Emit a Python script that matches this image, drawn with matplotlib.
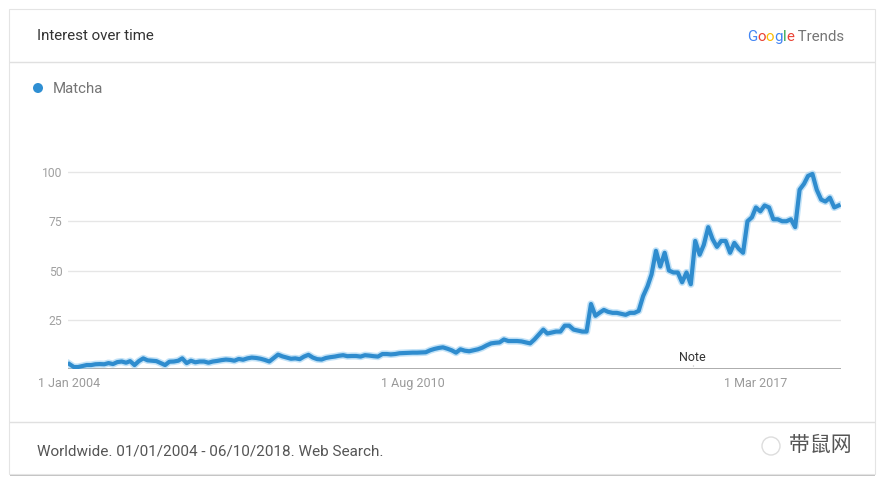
import numpy as np
import pandas as pd
import matplotlib
matplotlib.use('Agg')
import matplotlib.pyplot as plt
from matplotlib.patches import Rectangle, Circle

# monthly search interest for "Matcha", Jan 2004 .. Oct 2018
matcha = [
    2.5, 1, 1, 1.5, 2, 2, 2.4, 2.5, 2.4, 3, 2.5, 3.5, 3.8, 3.2, 4, 2, 4, 5.4, 4.4, 4.2,
    4, 3, 2, 3.7, 3.8, 4.2, 5.4, 3, 4.2, 3.4, 3.8, 3.8, 3.2, 3.8, 4.1, 4.5, 4.8, 4.6, 4.2, 5.1,
    4.7, 5.4, 5.8, 5.6, 5.2, 4.6, 3.8, 5.5, 7.3, 6.4, 5.8, 5.2, 5.4, 5, 6.3, 7.2, 5.8, 5, 4.8, 5.6,
    6, 6.3, 6.7, 7, 6.5, 6.6, 6.6, 6.3, 7, 6.8, 6.5, 6.3, 7.6, 7.6, 7.4, 7.6, 8, 8.1, 8.2, 8.3,
    8.3, 8.4, 8.5, 9.5, 10.2, 10.7, 11, 10.3, 9.5, 8.3, 10, 9.3, 9, 9.5, 10, 10.8, 12, 13, 13.3, 13.5,
    15, 14.2, 14.2, 14.2, 14, 13.5, 13, 15, 17.5, 20, 18, 18.5, 19, 19, 22, 22, 20, 19.5, 19, 19,
    33, 27, 28.5, 30, 29, 28.5, 28.5, 28, 27.5, 28.5, 28.5, 29.5, 37, 42, 48, 60, 52, 59, 50, 49,
    49, 44, 49, 43, 65, 58, 63, 72, 66, 62, 65, 65, 59, 64, 61, 59, 75, 77, 82, 80, 83, 82,
    76, 76, 75, 75, 76, 72, 91, 94, 98, 99, 91, 86, 85, 87, 82, 83,
]
months = pd.date_range('2004-01-01', periods=len(matcha), freq='MS')
y_ticks = [25, 50, 75, 100]
x_ticks = ['2004-01-01', '2010-08-01', '2017-03-01']
x_tick_labels = ['1 Jan 2004', '1 Aug 2010', '1 Mar 2017']
note_date = '2015-12-15'

W, H = 884, 484
fig = plt.figure(figsize=(W / 100, H / 100), dpi=100)
fig.patch.set_facecolor('white')

# background "card" drawn in pixel coordinates
bg = fig.add_axes([0, 0, 1, 1])
bg.set_xlim(0, W)
bg.set_ylim(H, 0)
bg.axis('off')
bg.add_patch(Rectangle((10, 12), 865, 464, facecolor='#c4c4c4', edgecolor='none'))  # shadow
bg.add_patch(Rectangle((9, 9), 866, 465, facecolor='white', edgecolor='#e4e4e4', lw=0.8))
bg.plot([10, 874], [62, 62], color='#e0e0e0', lw=1)
bg.plot([10, 874], [422, 422], color='#e0e0e0', lw=1)

bg.text(37, 36, 'Interest over time', fontsize=10.9, color='#333333', family='Roboto', va='center')
bg.text(37, 451, 'Worldwide. 01/01/2004 - 06/10/2018. Web Search.', fontsize=11,
        color='#555555', family='Roboto', va='center')

# Google Trends logo, letter by letter
prev = bg.text(747, 37, 'G', fontsize=10.8, color='#4285f4', family='Roboto', va='center')
for ch, col in zip('oogle', ['#ea4335', '#fbbc05', '#4285f4', '#34a853', '#ea4335']):
    prev = bg.annotate(ch, xy=(1, 0), xycoords=prev, va='bottom', fontsize=10.8,
                       color=col, family='Roboto')
bg.annotate(' Trends', xy=(1, 0), xycoords=prev, va='bottom', fontsize=10.8,
            color='#757575', family='Roboto')

# legend
bg.add_patch(Circle((38, 88), 5, facecolor='#2f8fd3', edgecolor='none'))
bg.text(53, 89, 'Matcha', fontsize=10.8, color='#757575', family='Roboto', va='center')

# watermark
bg.add_patch(Circle((771, 446), 9, facecolor='none', edgecolor='#dddddd', lw=1))
bg.text(789, 445, '带鼠网', fontsize=15, color='#555555', family=['Noto Sans CJK SC', 'DejaVu Sans'],
        va='center')

# chart
x0, x1 = 68, 841
y_base, y_top = 369, 172 - 10 * 1.97
ax = fig.add_axes([x0 / W, (H - y_base) / H, (x1 - x0) / W, (y_base - y_top) / H])
ax.patch.set_alpha(0)
ax.set_ylim(0, 110)
ax.set_xlim(pd.Timestamp('2003-12-22'), pd.Timestamp('2018-10-18'))

for v in y_ticks:
    ax.axhline(v, color='#e6e6e6', lw=1, zorder=1)
ax.axhline(0, color='#9e9e9e', lw=1.2, zorder=1)

ax.plot(months, matcha, color='#87c6f0', lw=5.2, alpha=0.5, solid_joinstyle='round', zorder=2)
ax.plot(months, matcha, color='#2f8cce', lw=3.0, solid_joinstyle='round', zorder=3)

ax.set_yticks(y_ticks)
ax.set_yticklabels([str(v) for v in y_ticks], fontsize=8.7, color='#a0a0a0', family='Roboto')
ax.set_xticks(pd.to_datetime(x_ticks))
ax.set_xticklabels(x_tick_labels, fontsize=9, color='#9a9a9a', family='Roboto')
ax.tick_params(length=0, pad=6)
ax.tick_params(axis='y', pad=4)
for s in ax.spines.values():
    s.set_visible(False)

ax.text(pd.Timestamp(note_date), 2.5, 'Note', fontsize=9, color='#333333',
        family='Roboto', ha='center', va='bottom')
ax.plot([pd.Timestamp(note_date)] * 2, [0, 2.5], color='#bbbbbb', lw=0.8, ls=':')

fig.savefig('out.png', dpi=100)
